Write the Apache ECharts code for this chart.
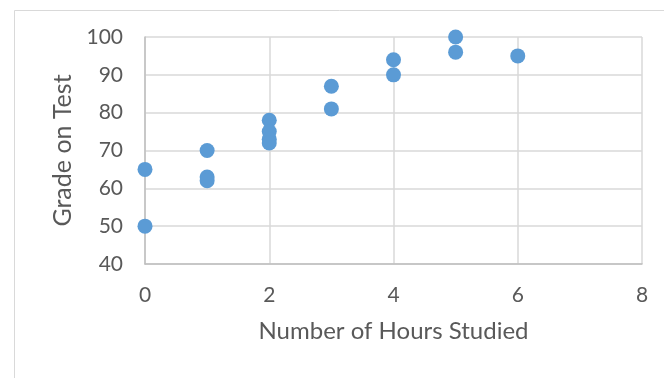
<!DOCTYPE html>
<html><head><meta charset="utf-8">
<script src="https://cdn.jsdelivr.net/npm/echarts@6/dist/echarts.min.js"></script>
<style>html,body{margin:0;padding:0;background:#fff}#c{width:664px;height:378px}</style>
</head><body><div id="c"></div>
<script>
const hours = [0, 0, 1, 1, 1, 2, 2, 2, 2, 3, 3, 4, 4, 5, 5, 6];
const grades = [65, 50, 70, 63, 62, 78, 75, 73, 72, 87, 81, 94, 90, 100, 96, 95];
const xTitle = 'Number of Hours Studied';
const yTitle = 'Grade on Test';

const chart = echarts.init(document.getElementById('c'));
const FONT = 'Lato';
chart.setOption({
  animation: false,
  backgroundColor: '#fff',
  graphic: [{type:'rect', left:12, top:8, shape:{width:650, height:400}, style:{fill:'none', stroke:'#D9D9D9', lineWidth:1}, silent:true}],
  grid: {left:145, right:22, top:37, bottom:114},
  xAxis: {
    type:'value', min:0, max:8, interval:2,
    name:xTitle, nameLocation:'middle', nameGap:55,
    nameTextStyle:{fontFamily:FONT, fontSize:24, color:'#595959'},
    axisLine:{show:true, onZero:false, lineStyle:{color:'#BFBFBF', width:1.5}},
    axisTick:{show:false},
    axisLabel:{fontFamily:FONT, fontSize:21, color:'#595959', margin:21},
    splitLine:{show:true, lineStyle:{color:'#D9D9D9', width:1.5}}
  },
  yAxis: {
    type:'value', min:40, max:100, interval:10,
    name:yTitle, nameLocation:'middle', nameGap:68,
    nameTextStyle:{fontFamily:FONT, fontSize:25, color:'#595959'},
    axisLine:{show:true, onZero:false, lineStyle:{color:'#BFBFBF', width:1.5}},
    axisTick:{show:false},
    axisLabel:{fontFamily:FONT, fontSize:21, color:'#595959', margin:22},
    splitLine:{show:true, lineStyle:{color:'#D9D9D9', width:1.5}}
  },
  series: [{
    type:'scatter',
    data: hours.map((h,i)=>[h, grades[i]]),
    symbolSize:15,
    itemStyle:{color:'#5B9BD5', opacity:1}
  }]
});
</script></body></html>
